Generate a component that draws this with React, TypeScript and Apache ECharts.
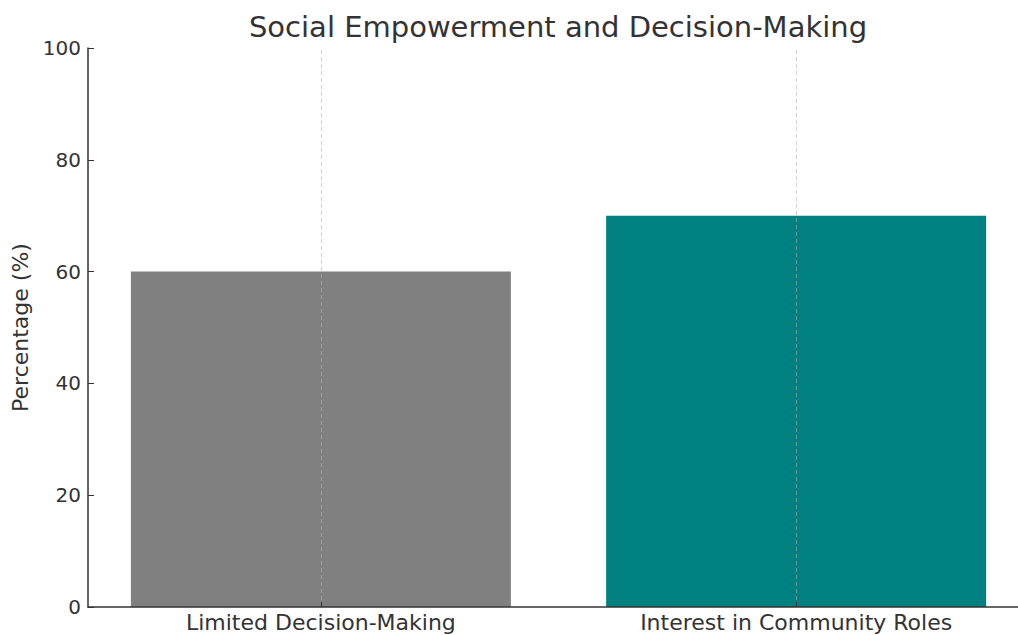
import React, { useEffect, useRef } from "react";
import * as echarts from "echarts";

const categories = ["Limited Decision-Making", "Interest in Community Roles"];
const values = [60, 70];
const barColors = ["#808080", "#008080"];
const yTicks = { min: 0, max: 100, interval: 20 };
const titleText = "Social Empowerment and Decision-Making";
const yAxisName = "Percentage (%)";

const FONT = "DejaVu Sans";
const TEXT = "#333333";

export default function App() {
  const ref = useRef<HTMLDivElement>(null);
  useEffect(() => {
    if (!ref.current) return;
    const chart = echarts.init(ref.current, null, { renderer: "svg" });
    const idx = categories.map((_, i) => i);
    chart.setOption({
      animation: false,
      title: {
        text: titleText,
        left: 553,
        textAlign: "center",
        top: 7,
        textStyle: { fontFamily: FONT, fontSize: 29, fontWeight: "normal", color: TEXT },
      },
      grid: { left: 88, right: 11, top: 48, bottom: 28, containLabel: false },
      xAxis: {
        type: "value",
        z: 5,
        min: -0.49,
        max: 1.49,
        splitLine: { show: false },
        axisLine: { show: true, onZero: false, lineStyle: { color: "#333", width: 1.5 } },
        axisTick: { show: true, inside: true, length: 5, customValues: idx, lineStyle: { color: "#333" } },
        axisLabel: {
          customValues: idx,
          formatter: (v: number) => categories[Math.round(v)] ?? "",
          fontFamily: FONT,
          fontSize: 22,
          color: TEXT,
          margin: 4,
        },
      },
      yAxis: {
        type: "value",
        z: 5,
        min: yTicks.min,
        max: yTicks.max,
        interval: yTicks.interval,
        name: yAxisName,
        nameLocation: "middle",
        nameGap: 55,
        nameTextStyle: { fontFamily: FONT, fontSize: 22, color: TEXT },
        splitLine: { show: false },
        axisLine: { show: true, onZero: false, lineStyle: { color: "#333", width: 1.5 } },
        axisTick: { show: true, inside: true, length: 6, lineStyle: { color: "#333" } },
        axisLabel: { fontFamily: FONT, fontSize: 20, color: TEXT, margin: 7 },
      },
      series: [
        {
          type: "bar",
          barWidth: 380,
          data: values.map((v, i) => ({ value: [i, v], itemStyle: { color: barColors[i] } })),
          markLine: {
            silent: true,
            symbol: "none",
            label: { show: false },
            lineStyle: { type: [4, 3], color: "rgba(176,176,176,0.6)", width: 1 },
            data: idx.map((i) => ({ xAxis: i })),
          },
        },
      ],
    });
    return () => chart.dispose();
  }, []);
  return (
    <div
      style={{
        position: "absolute",
        left: 0,
        top: 0,
        width: 1018,
        height: 635,
        overflow: "hidden",
        background: "#fff",
      }}
    >
      <div ref={ref} style={{ width: 1040, height: 635 }} />
    </div>
  );
}
